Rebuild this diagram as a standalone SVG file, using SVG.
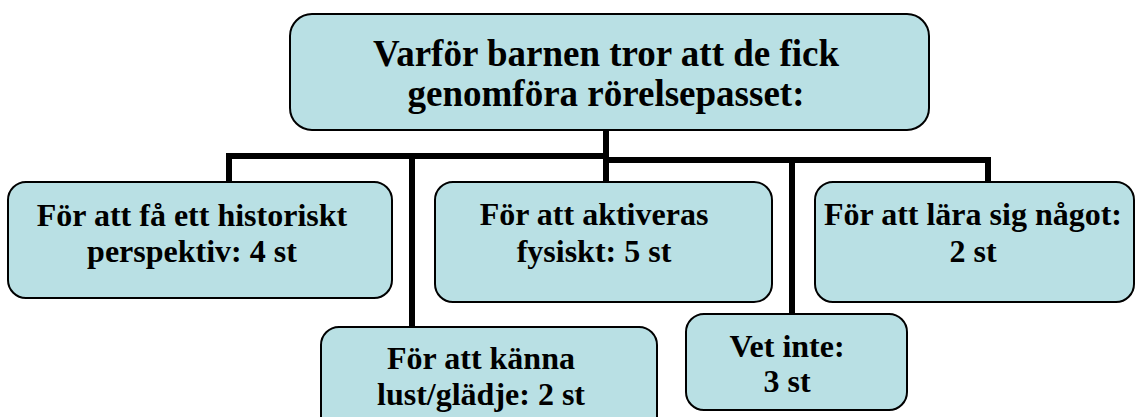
<svg xmlns="http://www.w3.org/2000/svg" width="1136" height="417" viewBox="0 0 1136 417">
  <style>
    .box { fill: #B9E0E4; stroke: #000; stroke-width: 2; }
    .lbl { font-family: "Liberation Serif", "Times New Roman", serif; font-weight: bold; font-size: 32px; fill: #000; text-anchor: middle; }
    .title { font-size: 37px; }
    .wire { fill: none; stroke: #000; stroke-width: 6; stroke-linecap: butt; stroke-linejoin: miter; }
  </style>
  <rect width="1136" height="417" fill="#fff"/>

  <!-- connectors -->
  <g id="connectors">
    <path class="wire" d="M606,130 V182"/>
    <path class="wire" d="M229,182 V156 H606"/>
    <path class="wire" d="M606,160 H988 V182"/>
    <path class="wire" d="M412,156 V327"/>
    <path class="wire" d="M792,160 V314"/>
  </g>

  <g id="root">
    <rect class="box" x="290" y="14" width="639" height="116" rx="22"/>
    <text class="lbl title" x="606" y="66">Varför barnen tror att de fick</text>
    <text class="lbl title" x="606" y="106">genomföra rörelsepasset:</text>
  </g>

  <g id="historiskt">
    <rect class="box" x="8" y="182" width="384" height="116" rx="18"/>
    <text class="lbl" x="192" y="226">För att få ett historiskt</text>
    <text class="lbl" x="192" y="262">perspektiv: 4 st</text>
  </g>

  <g id="aktiveras">
    <rect class="box" x="435" y="182" width="337" height="120" rx="18"/>
    <text class="lbl" x="594" y="225">För att aktiveras</text>
    <text class="lbl" x="594" y="262">fysiskt: 5 st</text>
  </g>

  <g id="lara">
    <rect class="box" x="815" y="182" width="319" height="120" rx="18"/>
    <text class="lbl" x="973" y="225">För att lära sig något:</text>
    <text class="lbl" x="973" y="262">2 st</text>
  </g>

  <g id="kanna">
    <rect class="box" x="321" y="327" width="336" height="110" rx="18"/>
    <text class="lbl" x="481" y="369">För att känna</text>
    <text class="lbl" x="481" y="405">lust/glädje: 2 st</text>
  </g>

  <g id="vet-inte">
    <rect class="box" x="686" y="314" width="221" height="96" rx="18"/>
    <text class="lbl" x="787" y="357">Vet inte:</text>
    <text class="lbl" x="787" y="392">3 st</text>
  </g>
</svg>
